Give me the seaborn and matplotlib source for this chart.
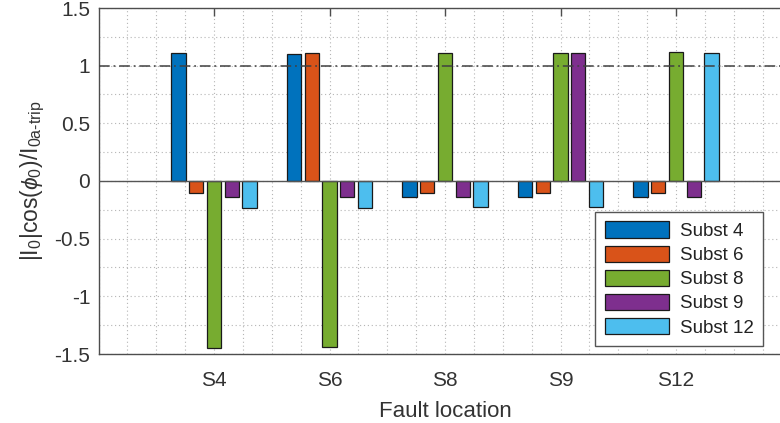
import matplotlib
matplotlib.use("Agg")
import matplotlib.pyplot as plt
from matplotlib.ticker import MultipleLocator, FuncFormatter
import seaborn as sns
import pandas as pd

locations = ["S4", "S6", "S8", "S9", "S12"]
substations = ["Subst 4", "Subst 6", "Subst 8", "Subst 9", "Subst 12"]
subst4 = [1.108, 1.102, -0.136, -0.136, -0.136]
subst6 = [-0.105, 1.108, -0.102, -0.102, -0.102]
subst8 = [-1.447, -1.44, 1.108, 1.108, 1.117]
subst9 = [-0.136, -0.136, -0.136, 1.108, -0.136]
subst12 = [-0.23, -0.23, -0.228, -0.228, 1.112]
threshold = 1.0
colors = ["#0072BD", "#D95319", "#77AC30", "#7E2F8E", "#4DBEEE"]

series = [subst4, subst6, subst8, subst9, subst12]
rows = []
for name, vals in zip(substations, series):
    for loc, v in zip(locations, vals):
        rows.append({"loc": loc, "subst": name, "val": v})
df = pd.DataFrame(rows)

sns.set_theme(style="white")
plt.rcParams["font.family"] = ["Liberation Sans", "DejaVu Sans"]
plt.rcParams["axes.unicode_minus"] = False
plt.rcParams["mathtext.fontset"] = "custom"
plt.rcParams["mathtext.rm"] = "Liberation Sans"
plt.rcParams["mathtext.it"] = "Liberation Sans:italic"
plt.rcParams["mathtext.bf"] = "Liberation Sans:bold"

txt = "#333333"
fig = plt.figure(figsize=(7.8, 4.23), dpi=100)
ax = fig.add_axes([98.5 / 780, 1 - 354 / 423, (791.5 - 98.5) / 780, 346 / 423])

sns.barplot(data=df, x="loc", y="val", hue="subst", palette=colors,
            order=locations, hue_order=substations, width=0.769, gap=0.2,
            errorbar=None, edgecolor="#1a1a1a", linewidth=0.9, saturation=1,
            ax=ax, zorder=3)

ax.set_xlim(-1, 5)
ax.set_ylim(-1.5, 1.5)
ax.yaxis.set_major_locator(MultipleLocator(0.5))
ax.yaxis.set_minor_locator(MultipleLocator(0.25))
ax.xaxis.set_minor_locator(MultipleLocator(0.25))
ax.yaxis.set_major_formatter(FuncFormatter(lambda v, p: "%g" % v))

ax.grid(True, which="both", axis="both", linestyle=(0, (1, 2.5)),
        color="#b5b5b5", linewidth=0.8, zorder=0)
ax.set_axisbelow(True)

ax.axhline(0, color="#555555", linewidth=1.0, zorder=4)
ax.axhline(threshold, color="#404040", linewidth=1.1,
           linestyle=(0, (7, 2.5, 1.2, 2.5)), zorder=5)

for s in ax.spines.values():
    s.set_visible(True)
    s.set_color("#4d4d4d")
    s.set_linewidth(1.0)

ax.tick_params(axis="both", which="major", direction="in", length=6,
               width=1.0, color="#4d4d4d", labelsize=15, labelcolor=txt,
               top=True, right=True, pad=6)
ax.tick_params(axis="x", which="major", pad=12)
ax.tick_params(axis="both", which="minor", length=0)

ax.set_xlabel("Fault location", fontsize=16, color=txt, labelpad=8)
ax.set_ylabel(r"$|\mathrm{I}_0|\mathrm{cos}(\phi_0)/\mathrm{I}_{\mathrm{0a}\text{-}\mathrm{trip}}$",
              fontsize=16.5, color=txt, labelpad=5)

leg = ax.legend(loc="lower right", bbox_to_anchor=(763 / 780, 1 - 346 / 423),
                bbox_transform=fig.transFigure, fontsize=13.5, frameon=True,
                fancybox=False, framealpha=1, edgecolor="#555555",
                handlelength=3.4, handleheight=0.95, labelspacing=0.3,
                handletextpad=0.6, borderpad=0.5, borderaxespad=0)
leg.get_frame().set_linewidth(1.0)
for t in leg.get_texts():
    t.set_color("#222222")

fig.savefig("out.png", dpi=100)
